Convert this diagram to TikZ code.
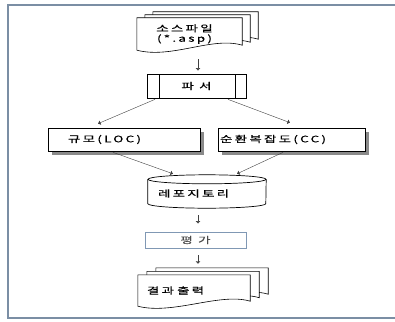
\documentclass[tikz,border=0pt]{standalone}
\usepackage{fontspec}
\setmainfont{Noto Sans CJK KR}[FakeStretch=1.5,LetterSpace=25,FakeBold=0.4]
\usetikzlibrary{positioning,shadows,backgrounds,calc,arrows.meta}
\definecolor{framegray}{HTML}{7B8EA4}
\definecolor{evalblue}{HTML}{8098B4}
\definecolor{shadegray}{HTML}{8A8A8A}
% one sheet of a document stack, shifted by #2
\newcommand\docpage[2]{%
\draw[page] ($(#1.north west)+#2$) -- ($(#1.north east)+#2$)
  -- ($(#1.south east)+#2+(0,-5)$)
  .. controls ($(#1.south east)+#2+(-30,-14)$) and ($(#1.south west)+#2+(35,9)$)
  .. ($(#1.south west)+#2$) -- cycle;}
% drum outline round a node
\newcommand\drum[1]{%
\draw[page ,line width=0.7pt] ($(#1.north west)+(0,4.5)$) -- ($(#1.south west)+(0,-4.5)$)
  arc[start angle=180 ,end angle=360 ,x radius=59pt ,y radius=4.5pt]
  -- ($(#1.north east)+(0,4.5)$);
\draw[page ,line width=0.7pt] ($(#1.north)+(0,4.5)$) ellipse [x radius=59pt ,y radius=4.5pt];}
\begin{document}
\begin{tikzpicture}[x=1pt ,y=-1pt ,on grid ,
>={Latex[width=5pt,length=2.5pt]} ,
font=\fontsize{9pt}{10pt}\selectfont ,
arr/.style ={-> ,draw=black!75 ,thin},
page/.style ={draw ,fill=white ,line width=0.6pt},
doc/.style ={minimum width=105pt ,minimum height=32pt ,align=center},
procbox/.style ={draw ,line width=0.7pt ,minimum width=99pt ,minimum height=24pt ,
  path picture={\draw ([xshift=12pt]path picture bounding box.north west) -- ([xshift=12pt]path picture bounding box.south west);
  \draw ([xshift=-11pt]path picture bounding box.north east) -- ([xshift=-11pt]path picture bounding box.south east);}},
shbox/.style ={draw ,fill=white ,line width=0.7pt ,minimum height=23pt ,align=left ,
  drop shadow={shadow xshift=4pt ,shadow yshift=-4pt ,fill=shadegray ,opacity=1}},
repo/.style ={minimum width=118pt ,minimum height=33pt},
evalbox/.style ={draw=evalblue ,line width=0.8pt ,minimum width=101pt ,minimum height=16pt ,text=black!70}]
\useasboundingbox (0,0) rectangle (395,321);
\draw[framegray ,line width=1.5pt] (397,5) -- (8,5) -- (8,318) -- (397,318);

\node[doc] (src) at (189.5,34) {\hspace*{-10pt}소스파일\\\hspace*{-10pt}(*.asp)};
\node[procbox] (parser) [below right=52pt and 7pt of src] {파 서};
\node[shbox ,minimum width=152pt ,text width=112pt] (loc) [below left=53.5pt and 72.5pt of parser] {규모(LOC)};
\node[shbox ,minimum width=147pt ,text width=143pt ,inner xsep=2pt] (cc) [below right=53.5pt and 95pt of parser] {순환복잡도(CC)};
\node[repo] (repo) [below right=105.5pt and 10.5pt of parser] {};
\node[evalbox] (eval) [below left=48.5pt and 11.5pt of repo] {평 가};
\node[doc ,minimum width=112pt ,minimum height=31pt ,text width=94pt ,align=left] (out) [below left=50.5pt and 1.5pt of eval] {결과 출력};

\begin{scope}[on background layer]
\docpage{src}{(16,-6)}
\docpage{src}{(8,-3)}
\docpage{src}{(0,0)}
\docpage{out}{(18,-7)}
\docpage{out}{(9,-3.5)}
\docpage{out}{(0,0)}
\drum{repo}
\end{scope}
\node[text width=98pt ,align=left] (repotext) at ($(repo.center)+(0,2)$) {레포지토리};

\draw[arr ,shorten <=9pt ,shorten >=3pt] ([xshift=8.5pt]src.south) -- ([xshift=1.5pt]parser.north);
\draw[arr] ([xshift=-41.5pt ,yshift=-1pt]parser.south) -- ([xshift=-26pt ,yshift=4pt]loc.north);
\draw[arr] ([xshift=31.5pt ,yshift=-1pt]parser.south) -- ([xshift=-1.5pt ,yshift=5pt]cc.north);
\draw[arr] ([xshift=-11pt ,yshift=-1pt]loc.south) -- ([xshift=-34pt ,yshift=1pt]repo.north);
\draw[arr] ([xshift=-8.5pt ,yshift=-1pt]cc.south) -- ([xshift=30pt ,yshift=1pt]repo.north);
\draw[arr ,shorten <=7pt ,shorten >=8pt] ([xshift=-9pt]repo.south) -- ([xshift=2.5pt]eval.north);
\draw[arr ,shorten <=7pt ,shorten >=11pt] ([xshift=2.5pt]eval.south) -- ([xshift=4pt]out.north);
\end{tikzpicture}
\end{document}
